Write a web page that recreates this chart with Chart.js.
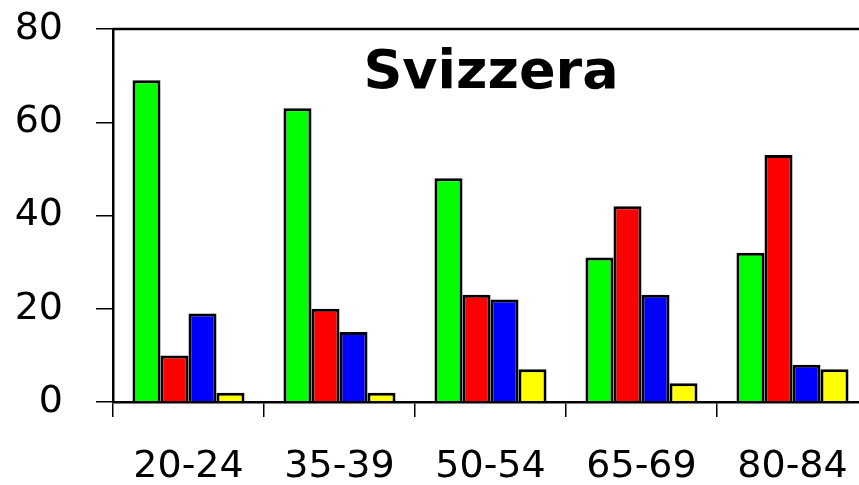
<!DOCTYPE html>
<html>
<head>
<meta charset="utf-8">
<script src="https://cdn.jsdelivr.net/npm/chart.js@4/dist/chart.umd.min.js"></script>
<style>
html,body{margin:0;padding:0;background:#fff;overflow:hidden;width:859px;height:485px;}
#wrap{width:870px;height:485px;}
</style>
</head>
<body>
<div id="wrap"><canvas id="c" width="870" height="485"></canvas></div>
<script>
const categories = ["20-24", "35-39", "50-54", "65-69", "80-84"];
const greenValues = [69, 63, 48, 31, 32];
const redValues = [10, 20, 23, 42, 53];
const blueValues = [19, 15, 22, 23, 8];
const yellowValues = [2, 2, 7, 4, 7];
const yTicks = [0, 20, 40, 60, 80];
const titleText = "Svizzera";

const FONT = "'DejaVu Sans', sans-serif";

const framePlugin = {
  id: 'frame',
  afterDraw(chart) {
    const {ctx, chartArea} = chart;
    ctx.save();
    ctx.strokeStyle = '#000';
    ctx.lineWidth = 2.5;
    ctx.beginPath();
    ctx.moveTo(chartArea.left, chartArea.top);
    ctx.lineTo(chartArea.right, chartArea.top);
    ctx.lineTo(chartArea.right, chartArea.bottom);
    ctx.stroke();
    ctx.fillStyle = '#000';
    ctx.font = "bold 54px " + FONT;
    ctx.textAlign = 'center';
    ctx.textBaseline = 'alphabetic';
    ctx.fillText(titleText, 491, 88);
    ctx.restore();
  }
};

function ds(data, color) {
  return {data, backgroundColor: color, borderColor: '#000', borderWidth: 3,
    barPercentage: 1.0, categoryPercentage: 0.742, borderSkipped: 'bottom'};
}

new Chart(document.getElementById('c'), {
  type: 'bar',
  data: {
    labels: categories,
    datasets: [
      ds(greenValues, '#00ff00'),
      ds(redValues, '#ff0000'),
      ds(blueValues, '#0000ff'),
      ds(yellowValues, '#ffff00')
    ]
  },
  options: {
    responsive: false,
    animation: false,
    devicePixelRatio: 1,
    layout: {padding: {top: 29, right: 2, left: 0, bottom: 0}},
    plugins: {legend: {display: false}, tooltip: {enabled: false}},
    scales: {
      x: {
        grid: {offset: true, drawOnChartArea: false, drawTicks: true, tickLength: 15, color: '#000', lineWidth: 1.5},
        border: {display: true, color: '#000', width: 2.5},
        ticks: {color: '#000', font: {family: FONT, size: 38}, padding: 27, maxRotation: 0},
        afterFit(s) { s.height = 83; s.paddingLeft = 0; s.paddingRight = 0; }
      },
      y: {
        min: 0, max: 80,
        afterBuildTicks(s) { s.ticks = yTicks.map(v => ({value: v})); },
        grid: {drawOnChartArea: false, drawTicks: true, tickLength: 17, color: '#000', lineWidth: 1.5},
        border: {display: true, color: '#000', width: 2.5},
        ticks: {color: '#000', font: {family: FONT, size: 38}, padding: 33},
        afterFit(s) { s.width = 113; s.paddingTop = 0; s.paddingBottom = 0; }
      }
    }
  },
  plugins: [framePlugin]
});
</script>
</body>
</html>
